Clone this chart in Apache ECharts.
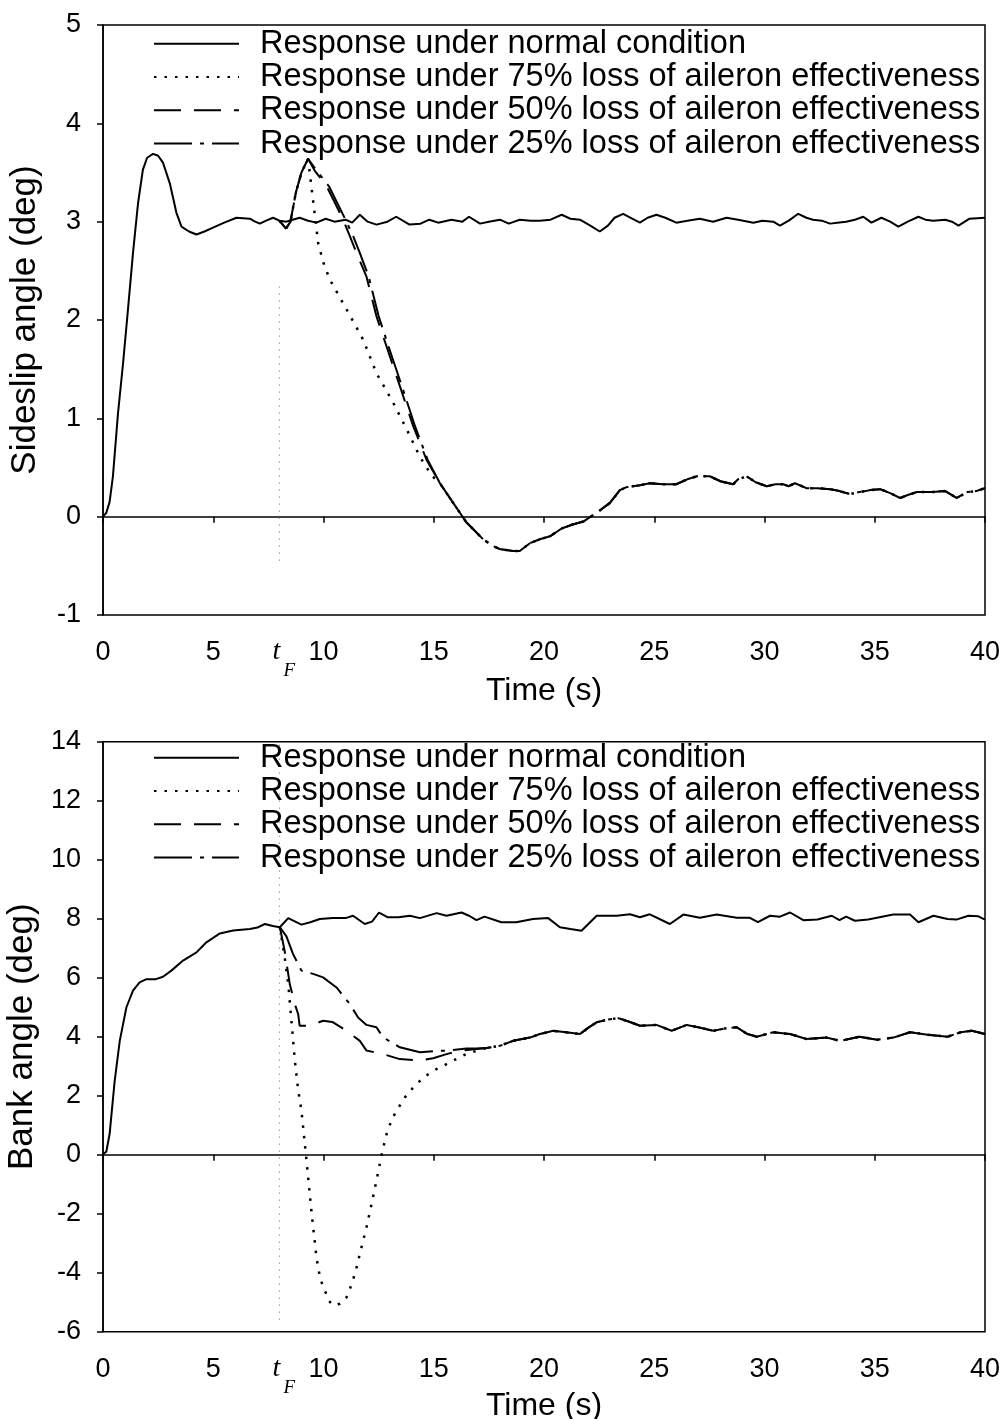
<!DOCTYPE html>
<html>
<head>
<meta charset="utf-8">
<script src="https://cdn.jsdelivr.net/npm/echarts@6/dist/echarts.min.js"></script>
<style>html,body{margin:0;padding:0;background:#fff;}#chart{width:1003px;height:1419px;}</style>
</head>
<body>
<div id="chart"></div>
<script>
// ---------- DATA ----------
var seriesNames = [
  'Response under normal condition',
  'Response under 75% loss of aileron effectiveness',
  'Response under 50% loss of aileron effectiveness',
  'Response under 25% loss of aileron effectiveness'
];
var xTicks = [0, 5, 10, 15, 20, 25, 30, 35, 40];
var faultTime = 8;

// Sideslip angle (deg)
var sideNormal = [[0,0],[0.15,0.04],[0.3,0.15],[0.45,0.41],[0.68,1.05],[0.91,1.56],[1.13,2.1],[1.36,2.68],[1.59,3.19],[1.81,3.53],[2.0,3.65],[2.27,3.69],[2.5,3.67],[2.72,3.6],[3.03,3.39],[3.33,3.09],[3.56,2.95],[3.9,2.9],[4.24,2.87],[4.6,2.9],[4.99,2.94],[5.5,2.99],[6.05,3.04],[6.66,3.03],[6.9,3.0],[7.11,2.98],[7.4,3.01],[7.71,3.04],[8.0,3.01],[8.32,3.0],[8.6,3.02],[8.92,3.04],[9.3,3.01],[9.68,2.99],[10.1,3.03],[10.5,3.0],[11.0,3.02],[11.3,2.99],[11.65,3.07],[12.0,3.0],[12.4,2.97],[12.9,3.0],[13.3,3.05],[13.9,2.97],[14.4,2.98],[14.8,3.02],[15.2,2.99],[15.8,3.02],[16.3,3.0],[16.6,3.05],[17.1,2.98],[17.5,3.0],[18.0,3.02],[18.4,2.98],[18.9,3.02],[19.4,3.01],[19.81,3.01],[20.3,3.02],[20.8,3.07],[21.2,3.03],[21.63,3.02],[22.1,2.96],[22.53,2.9],[22.9,2.96],[23.2,3.04],[23.59,3.08],[24.0,3.03],[24.35,2.99],[24.7,3.04],[25.1,3.07],[25.5,3.04],[26.0,2.99],[26.5,3.01],[27.07,3.03],[27.67,3.0],[28.28,3.04],[28.8,3.02],[29.5,2.99],[29.9,3.01],[30.4,3.0],[30.7,2.96],[31.1,3.01],[31.53,3.08],[31.9,3.04],[32.2,3.02],[32.6,3.01],[32.97,2.98],[33.3,2.99],[33.7,3.0],[34.1,3.02],[34.48,3.05],[34.85,2.99],[35.3,3.04],[35.7,3.0],[36.07,2.95],[36.5,3.0],[36.98,3.05],[37.3,3.02],[37.65,3.01],[38.2,3.02],[38.5,3.0],[38.8,2.96],[39.3,3.03],[40,3.04]];
var sideFaultStart = [[8.0,3.01],[8.3,2.93],[8.5,3.0],[8.75,3.3],[9.0,3.5],[9.3,3.64]];
var side75 = [[9.53,3.21],[9.76,2.78],[10.0,2.58],[10.29,2.41],[11.04,2.11],[11.8,1.80],[12.4,1.46],[13.16,1.16],[13.77,0.89],[14.37,0.61],[14.9,0.42]];
var side50 = [[9.6,3.52],[10.14,3.36],[10.5,3.2],[10.89,3.02],[11.2,2.85],[11.5,2.68],[11.95,2.44],[12.4,2.04],[12.86,1.73],[13.46,1.33],[14.07,0.92],[14.67,0.58]];
var side25 = [[9.65,3.53],[10.25,3.36],[10.6,3.2],[11.0,3.02],[11.35,2.85],[11.65,2.68],[12.05,2.44],[12.5,2.04],[12.95,1.73],[13.55,1.33],[14.15,0.92],[14.72,0.58]];
var sideFaultTail = [[15.28,0.34],[15.88,0.14],[16.49,-0.06],[17.24,-0.23],[17.7,-0.3],[18.0,-0.33],[18.6,-0.35],[18.9,-0.35],[19.36,-0.27],[19.81,-0.23],[20.27,-0.2],[20.8,-0.12],[21.3,-0.08],[21.78,-0.05],[22.39,0.04],[22.99,0.14],[23.44,0.27],[23.74,0.3],[24.35,0.32],[24.8,0.34],[25.4,0.33],[26.0,0.33],[26.5,0.38],[26.92,0.41],[27.53,0.41],[28.0,0.36],[28.58,0.33],[28.8,0.38],[29.19,0.41],[29.6,0.35],[30.1,0.31],[30.5,0.33],[30.85,0.33],[31.1,0.31],[31.38,0.34],[31.9,0.29],[32.4,0.29],[32.97,0.28],[33.4,0.26],[33.88,0.23],[34.3,0.25],[34.8,0.27],[35.24,0.28],[35.7,0.24],[36.15,0.19],[36.5,0.22],[36.9,0.25],[37.6,0.25],[38.2,0.26],[38.72,0.19],[39.2,0.25],[39.6,0.26],[40,0.29]];
var sideMarker = [[8,2.34],[8,-0.46]];

// Bank angle (deg)
var bankNormal = [[0,0.02],[0.15,0.1],[0.3,0.7],[0.53,2.5],[0.76,3.86],[1.06,4.99],[1.36,5.56],[1.66,5.84],[1.97,5.95],[2.4,5.95],[2.72,6.03],[3.1,6.24],[3.63,6.58],[4.24,6.86],[4.69,7.2],[5.3,7.5],[5.9,7.6],[6.66,7.65],[7.0,7.7],[7.34,7.82],[7.7,7.75],[8.02,7.71],[8.4,8.02],[9.0,7.8],[9.4,7.88],[9.83,7.99],[10.43,8.02],[11.0,8.02],[11.34,8.1],[11.87,7.82],[12.2,7.9],[12.52,8.21],[12.9,8.05],[13.4,8.05],[13.92,8.1],[14.37,8.02],[15.13,8.19],[15.58,8.1],[16.26,8.21],[16.6,8.1],[16.94,7.95],[17.3,8.07],[18.07,7.88],[18.74,7.88],[19.5,7.99],[20.19,8.02],[20.72,7.71],[21.2,7.65],[21.7,7.59],[22.39,8.1],[23.3,8.1],[23.9,8.15],[24.35,8.05],[24.8,8.15],[25.71,7.82],[26.32,8.14],[27.07,8.03],[27.83,8.14],[28.74,8.03],[29.34,8.03],[29.7,7.88],[30.25,8.1],[30.7,8.07],[31.16,8.21],[31.76,7.95],[32.4,7.97],[33.05,8.1],[33.4,7.95],[33.7,8.07],[34.1,7.93],[34.7,7.97],[35.84,8.14],[36.6,8.14],[36.98,7.88],[37.66,8.1],[38.3,7.99],[38.7,7.97],[39.25,8.1],[39.7,8.08],[40,7.97]];
var bank75 = [[8.02,7.71],[8.24,6.7],[8.4,5.8],[8.55,4.5],[8.7,3.2],[8.85,2.2],[9.0,1.49],[9.23,-0.2],[9.45,-1.9],[9.68,-3.48],[9.85,-4.2],[10.06,-4.61],[10.3,-5.0],[10.5,-5.12],[10.75,-5.05],[11.04,-4.84],[11.3,-4.35],[11.5,-3.82],[11.75,-3.05],[11.95,-2.46],[12.2,-1.6],[12.4,-0.88],[12.65,0.05],[12.86,0.7],[13.1,1.2],[13.31,1.49],[13.7,1.95],[14.14,2.34],[14.55,2.62],[14.97,2.85],[15.35,2.98],[15.88,3.19],[16.49,3.42],[16.94,3.52]];
var bank50 = [[8.02,7.71],[8.24,6.9],[8.47,5.79],[8.7,5.1],[8.85,4.77],[8.92,4.37],[9.38,4.37],[9.98,4.54],[10.4,4.5],[11.04,4.2],[11.65,3.86],[11.95,3.53],[12.7,3.41],[13.46,3.24],[14.37,3.19],[14.97,3.27],[15.58,3.41],[16.19,3.52],[16.94,3.58]];
var bank25 = [[8.02,7.71],[8.32,7.4],[8.62,6.8],[9.0,6.24],[9.53,6.13],[9.98,6.01],[10.59,5.67],[11.19,5.11],[11.57,4.65],[11.95,4.4],[12.4,4.32],[12.7,3.98],[13.46,3.64],[14.37,3.47],[15.1,3.52],[15.58,3.52],[16.49,3.6],[16.94,3.6]];
var bankFaultTail = [[17.4,3.62],[18.0,3.69],[18.6,3.86],[19.36,3.97],[19.81,4.09],[20.42,4.2],[21.0,4.15],[21.63,4.09],[22.0,4.3],[22.39,4.49],[22.9,4.58],[23.37,4.63],[23.9,4.5],[24.35,4.37],[25.1,4.4],[25.79,4.2],[26.47,4.4],[27.1,4.3],[27.68,4.2],[28.2,4.28],[28.74,4.32],[29.2,4.1],[29.65,4.0],[30.4,4.15],[31.16,4.09],[31.9,3.92],[32.8,3.97],[33.43,3.86],[34.3,4.0],[35.1,3.9],[35.84,3.97],[36.6,4.15],[37.4,4.07],[38.3,4.0],[38.9,4.15],[39.4,4.2],[40,4.09]];
var bankMarker = [[8,13.9],[8,-5.73]];

// ---------- CHART ----------
var FONT = '"Liberation Sans", Arial, Helvetica, sans-serif';
var styles = [
  {type: 'solid', width: 2},
  {type: [2.5, 8], width: 2.5},
  {type: [27, 13], width: 2},
  {type: [38, 8, 4, 8], width: 2}
];
function mkSeries(name, idx, data, ax) {
  return {
    name: name, type: 'line', data: data, xAxisIndex: ax, yAxisIndex: ax,
    symbol: 'none', smooth: false, animation: false,
    itemStyle: {color: '#000'},
    lineStyle: {color: '#000', width: styles[idx].width, type: styles[idx].type}
  };
}
function marker(data, ax) {
  return {
    name: 'tF', type: 'line', data: data, xAxisIndex: ax, yAxisIndex: ax,
    symbol: 'none', animation: false, silent: true,
    lineStyle: {color: '#666', width: 1, type: [1, 6]}
  };
}
function xAx(gi) {
  return {
    type: 'value', gridIndex: gi, min: 0, max: 40, interval: 5,
    name: 'Time (s)', nameLocation: 'middle', nameGap: gi === 0 ? 60 : 58,
    nameTextStyle: {fontSize: 32, color: '#000', fontFamily: FONT},
    axisLine: {show: true, lineStyle: {color: '#000', width: 1.5}},
    axisTick: {show: true, inside: false, length: 6, lineStyle: {color: '#000', width: 1.5}},
    axisLabel: {fontSize: 27, color: '#000', fontFamily: FONT, margin: 24,
      formatter: function (v) { return xTicks.indexOf(v) >= 0 ? String(v) : ''; }},
    splitLine: {show: false}
  };
}
function yAx(gi, min, max, itv, name) {
  return {
    type: 'value', gridIndex: gi, min: min, max: max, interval: itv,
    name: name, nameLocation: 'middle', nameGap: 60,
    nameTextStyle: {fontSize: 35, color: '#000', fontFamily: FONT},
    axisLine: {show: true, lineStyle: {color: '#000', width: 1.5}},
    axisTick: {show: true, inside: false, length: 6, lineStyle: {color: '#000', width: 1.5}},
    axisLabel: {fontSize: 27, color: '#000', fontFamily: FONT, margin: 22},
    splitLine: {show: false}
  };
}
function legendAt(top) {
  return {
    data: seriesNames, orient: 'vertical', left: 153, top: top,
    itemWidth: 85, itemHeight: 12, itemGap: 0, padding: 0,
    selectedMode: false,
    itemStyle: {opacity: 0},
    textStyle: {fontSize: 32.5, color: '#000', fontFamily: FONT, lineHeight: 33.3, padding: [0, 0, 0, 16]}
  };
}

var chart = echarts.init(document.getElementById('chart'), null, {renderer: 'canvas'});
var option = {
  backgroundColor: '#fff',
  animation: false,
  grid: [
    {left: 103, right: 18, top: 25, height: 590, show: true, borderColor: '#000', borderWidth: 1.5, backgroundColor: 'transparent', containLabel: false, outerBoundsMode: 'none'},
    {left: 103, right: 18, top: 741.7, height: 590, show: true, borderColor: '#000', borderWidth: 1.5, backgroundColor: 'transparent', containLabel: false, outerBoundsMode: 'none'}
  ],
  xAxis: [xAx(0), xAx(1)],
  yAxis: [yAx(0, -1, 5, 1, 'Sideslip angle (deg)'), yAx(1, -6, 14, 2, 'Bank angle (deg)')],
  legend: [legendAt(27), legendAt(741)],
  series: [
    marker(sideMarker, 0),
    mkSeries(seriesNames[0], 0, sideNormal, 0),
    mkSeries(seriesNames[1], 1, sideFaultStart.concat(side75, sideFaultTail), 0),
    mkSeries(seriesNames[2], 2, sideFaultStart.concat(side50, sideFaultTail), 0),
    mkSeries(seriesNames[3], 3, sideFaultStart.concat(side25, sideFaultTail), 0),
    marker(bankMarker, 1),
    mkSeries(seriesNames[0], 0, bankNormal, 1),
    mkSeries(seriesNames[1], 1, bank75.concat(bankFaultTail), 1),
    mkSeries(seriesNames[2], 2, bank50.concat(bankFaultTail), 1),
    mkSeries(seriesNames[3], 3, bank25.concat(bankFaultTail), 1)
  ]
};
chart.setOption(option);

// t_F labels under each x axis, placed through the axis scales
var gElems = [];
[[0, -1], [1, -6]].forEach(function (g) {
  var p = chart.convertToPixel({gridIndex: g[0]}, [faultTime, g[1]]);
  gElems.push({type: 'text', x: p[0] - 3, y: p[1] + 37,
    style: {text: 't', font: 'italic 28px "Liberation Serif", "Times New Roman", serif', fill: '#000', textAlign: 'center', textVerticalAlign: 'middle'}});
  gElems.push({type: 'text', x: p[0] + 10, y: p[1] + 56,
    style: {text: 'F', font: 'italic 19px "Liberation Serif", "Times New Roman", serif', fill: '#000', textAlign: 'center', textVerticalAlign: 'middle'}});
});
chart.setOption({graphic: gElems});
</script>
</body>
</html>
